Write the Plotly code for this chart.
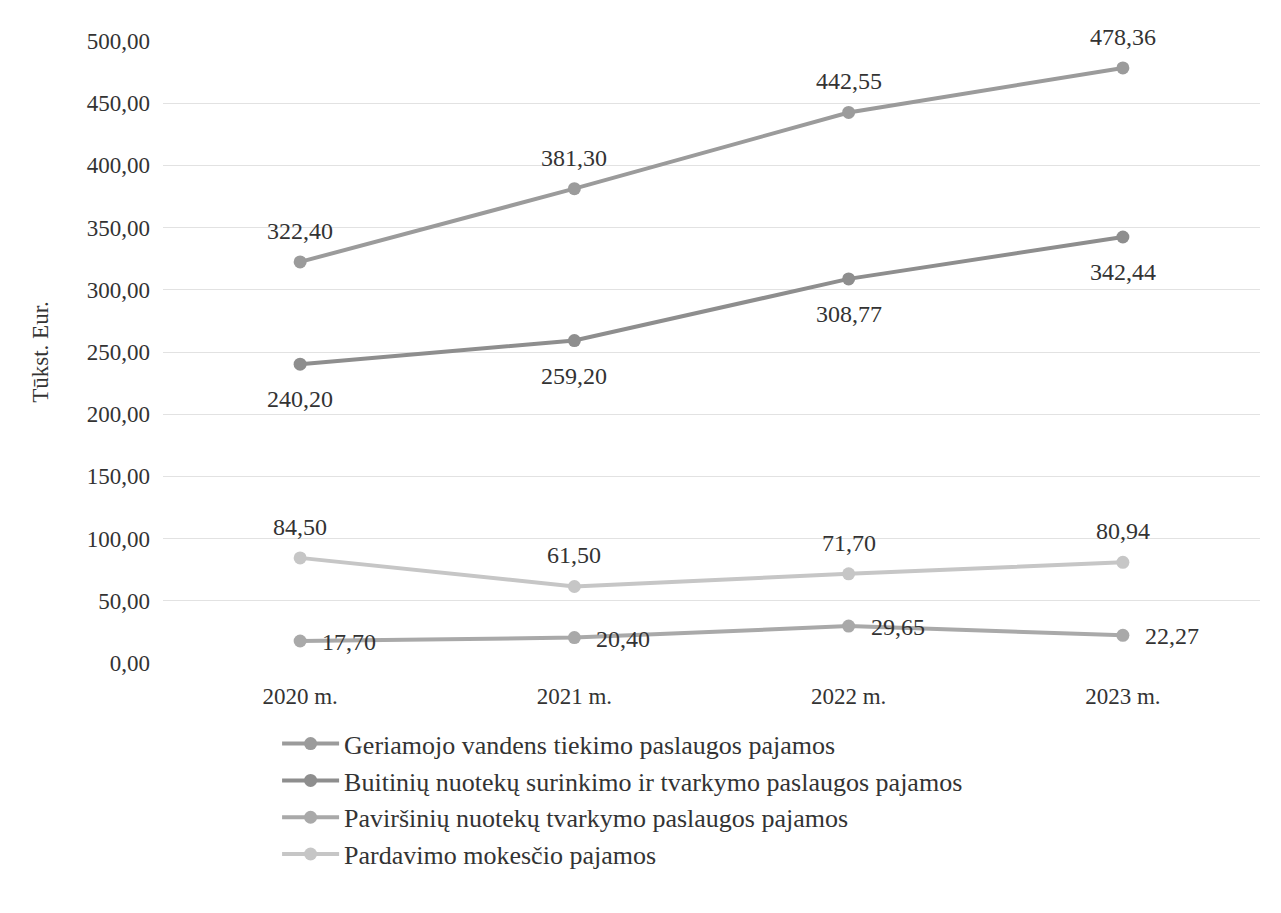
import plotly.graph_objects as go

years = ["2020 m.", "2021 m.", "2022 m.", "2023 m."]
geriamojo = [322.40, 381.30, 442.55, 478.36]
buitiniu = [240.20, 259.20, 308.77, 342.44]
pavirsiniu = [17.70, 20.40, 29.65, 22.27]
pardavimo = [84.50, 61.50, 71.70, 80.94]

names = [
    "Geriamojo vandens tiekimo paslaugos pajamos",
    "Buitinių nuotekų surinkimo ir tvarkymo paslaugos pajamos",
    "Paviršinių nuotekų tvarkymo paslaugos pajamos",
    "Pardavimo mokesčio pajamos",
]
series = [geriamojo, buitiniu, pavirsiniu, pardavimo]
colors = ["#9b9b9b", "#8e8e8e", "#a9a9a9", "#c6c6c6"]
label_pos = ["above", "below", "right", "above"]

font = "Liberation Serif, Times New Roman, serif"
fig = go.Figure()
annotations = []
for name, vals, col, pos in zip(names, series, colors, label_pos):
    fig.add_trace(go.Scatter(
        x=years, y=vals, name=name, mode="lines+markers",
        line=dict(color=col, width=4),
        marker=dict(color=col, size=13),
    ))
    for xv, yv in zip(years, vals):
        a = dict(x=xv, y=yv, xref="x", yref="y", showarrow=False,
                 text=f"{yv:.2f}".replace(".", ","),
                 font=dict(family=font, size=24, color="#333333"))
        if pos == "above":
            a.update(yshift=31, xanchor="center")
        elif pos == "below":
            a.update(yshift=-35, xanchor="center")
        else:
            a.update(xshift=20, yshift=-1, xanchor="left")
        annotations.append(a)

fig.update_layout(
    width=1281, height=913,
    paper_bgcolor="white", plot_bgcolor="white",
    margin=dict(l=155, r=29, t=33, b=258),
    separators=", ",
    font=dict(family=font, size=23, color="#333333"),
    showlegend=True,
    annotations=annotations,
    legend=dict(x=0.104, y=-0.092, xanchor="left", yanchor="top",
                font=dict(family=font, size=26, color="#333333"),
                itemwidth=57, tracegroupgap=0),
)
fig.update_xaxes(range=[-0.5, 3.5], showgrid=False, showline=False, ticks="",
                 tickfont=dict(size=23), ticklabelstandoff=17, automargin=False)
fig.update_yaxes(range=[0, 500], dtick=50, tickformat=".2f",
                 showgrid=True, gridcolor="#e2e2e2", gridwidth=1, zeroline=False,
                 title=dict(text="Tūkst. Eur.", font=dict(size=23), standoff=31),
                 ticks="", tickfont=dict(size=23), ticklabelstandoff=12,
                 automargin=False)

fig.write_html("out.html")
